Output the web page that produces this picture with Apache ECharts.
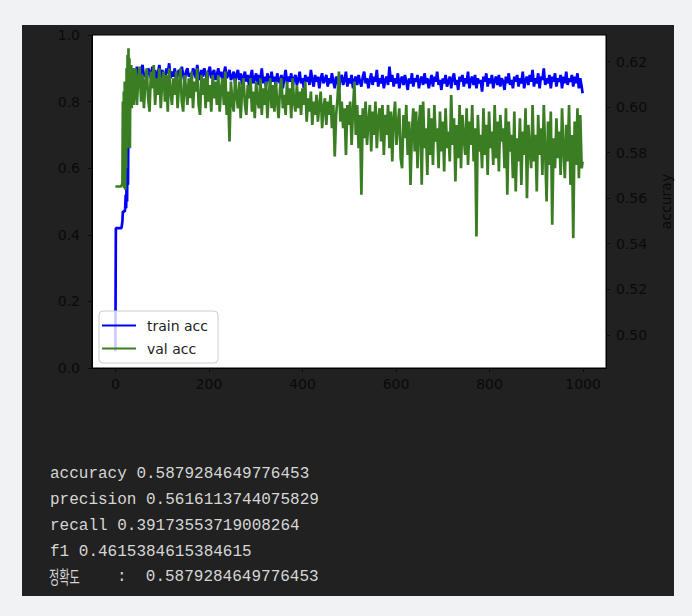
<!DOCTYPE html>
<html><head><meta charset="utf-8">
<script src="https://cdn.jsdelivr.net/npm/echarts@6/dist/echarts.min.js"></script>
<style>
html,body{margin:0;padding:0;background:#f1f2f4;}
#panel{position:absolute;left:22px;top:25px;width:652px;height:571px;background:#212121;}
#c{position:absolute;left:0;top:0;width:692px;height:616px;}
</style>
</head><body><div id="panel"></div><div id="c"></div>
<script>
// sampled epochs: every epoch for 0-39, every 3rd epoch for 40-997, then the last epoch 999
const earlyEpochs = [0,1,2,3,4,5,6,7,8,9,10,11,12,13,14,15,16,17,18,19,20,21,22,23,24,25,26,27,28,29,30,31,32,33,34,35,36,37,38,39];
const laterEpochStart = 40, laterEpochStep = 3, lastEpoch = 999;

const trainAcc = [
 0.05,0.42,0.42,0.42,0.42,0.42,0.42,0.42,0.42,0.42,0.42,0.42,0.42,0.42,0.42,0.44,0.47,0.47,0.47,0.47,0.47,0.48,0.52,0.48,0.56,0.50,0.67,0.55,0.78,0.84,0.88,0.86,0.89,0.87,0.90,0.88,0.89,0.87,0.90,0.88,
 0.89,0.87,0.905,0.88,0.865,0.895,0.91,0.875,0.885,0.865,0.9,0.89,0.87,0.905,0.88,0.895,0.865,0.885,0.91,0.87,
 0.895,0.88,0.865,0.9,0.885,0.915,0.87,0.89,0.875,0.9,0.865,0.885,0.895,0.87,0.905,0.88,0.86,0.89,0.9,0.875,
 0.885,0.865,0.9,0.89,0.87,0.91,0.88,0.865,0.895,0.875,0.9,0.885,0.86,0.89,0.905,0.87,0.885,0.895,0.865,0.88,
 0.9,0.875,0.89,0.86,0.885,0.905,0.87,0.88,0.895,0.865,0.875,0.89,0.855,0.88,0.895,0.865,0.885,0.85,0.875,0.89,
 0.86,0.88,0.845,0.875,0.895,0.855,0.87,0.885,0.85,0.88,0.865,0.9,0.855,0.875,0.845,0.885,0.87,0.855,0.89,0.86,
 0.875,0.845,0.885,0.865,0.855,0.88,0.84,0.87,0.895,0.855,0.875,0.86,0.885,0.845,0.87,0.88,0.85,0.865,0.89,0.855,
 0.87,0.84,0.88,0.86,0.875,0.85,0.895,0.865,0.845,0.88,0.86,0.875,0.84,0.87,0.885,0.855,0.865,0.88,0.845,0.87,
 0.855,0.885,0.86,0.84,0.875,0.865,0.835,0.87,0.88,0.85,0.865,0.89,0.845,0.87,0.855,0.88,0.84,0.865,0.875,0.85,
 0.88,0.86,0.845,0.875,0.89,0.855,0.87,0.84,0.865,0.885,0.85,0.875,0.86,0.895,0.845,0.87,0.855,0.88,0.84,0.865,
 0.875,0.85,0.905,0.86,0.88,0.845,0.87,0.855,0.885,0.84,0.865,0.875,0.85,0.88,0.86,0.835,0.87,0.855,0.885,0.845,
 0.87,0.86,0.88,0.84,0.865,0.875,0.85,0.885,0.855,0.87,0.84,0.86,0.88,0.845,0.875,0.86,0.89,0.85,0.865,0.835,
 0.87,0.855,0.88,0.845,0.86,0.875,0.84,0.87,0.885,0.85,0.865,0.835,0.875,0.86,0.88,0.845,0.87,0.855,0.89,0.84,
 0.865,0.875,0.85,0.88,0.84,0.87,0.855,0.865,0.83,0.875,0.86,0.885,0.845,0.87,0.855,0.88,0.84,0.865,0.875,0.85,
 0.88,0.845,0.87,0.86,0.835,0.875,0.855,0.885,0.85,0.865,0.84,0.875,0.86,0.88,0.845,0.87,0.855,0.89,0.84,0.865,
 0.875,0.85,0.88,0.86,0.895,0.845,0.87,0.855,0.885,0.84,0.875,0.865,0.9,0.85,0.87,0.855,0.88,0.84,0.875,0.86,
 0.885,0.845,0.87,0.86,0.88,0.84,0.875,0.855,0.89,0.85,0.87,0.86,0.88,0.845,0.875,0.855,0.885,0.84,0.87,0.845,
 0.825
];
const valAcc = [
 0.545,0.545,0.545,0.545,0.545,0.545,0.545,0.545,0.545,0.545,0.545,0.545,0.545,0.545,0.55,0.555,0.80,0.56,0.83,0.54,0.86,0.535,0.82,0.60,0.90,0.66,0.94,0.70,0.96,0.72,0.93,0.66,0.90,0.80,0.91,0.78,0.89,0.82,0.90,0.79,
 0.82,0.9,0.79,0.87,0.905,0.8,0.88,0.78,0.86,0.9,0.81,0.77,0.89,0.84,0.91,0.79,0.87,0.82,0.9,0.78,
 0.86,0.89,0.8,0.88,0.77,0.9,0.83,0.79,0.87,0.82,0.89,0.78,0.85,0.9,0.8,0.77,0.88,0.84,0.79,0.87,
 0.81,0.89,0.78,0.86,0.83,0.9,0.79,0.76,0.88,0.82,0.87,0.78,0.89,0.8,0.85,0.77,0.88,0.81,0.86,0.79,
 0.88,0.77,0.84,0.87,0.79,0.89,0.76,0.83,0.68,0.86,0.8,0.77,0.87,0.82,0.78,0.86,0.75,0.84,0.87,0.79,
 0.76,0.85,0.81,0.87,0.77,0.83,0.75,0.86,0.8,0.78,0.87,0.76,0.84,0.79,0.86,0.75,0.82,0.87,0.78,0.85,
 0.77,0.86,0.8,0.75,0.84,0.87,0.78,0.82,0.76,0.86,0.79,0.84,0.75,0.87,0.8,0.77,0.85,0.78,0.83,0.76,
 0.84,0.79,0.86,0.74,0.81,0.77,0.83,0.73,0.8,0.76,0.82,0.74,0.79,0.83,0.72,0.78,0.81,0.73,0.8,0.76,
 0.82,0.72,0.79,0.635,0.76,0.81,0.89,0.74,0.8,0.72,0.78,0.64,0.79,0.73,0.8,0.67,0.77,0.86,0.7,0.79,
 0.66,0.76,0.52,0.78,0.69,0.8,0.67,0.74,0.79,0.65,0.77,0.7,0.8,0.66,0.75,0.78,0.68,0.79,0.64,0.76,
 0.7,0.79,0.66,0.77,0.62,0.75,0.8,0.67,0.73,0.78,0.63,0.6,0.76,0.69,0.79,0.64,0.74,0.55,0.71,0.78,
 0.65,0.77,0.6,0.73,0.79,0.55,0.8,0.66,0.72,0.58,0.78,0.64,0.75,0.61,0.79,0.68,0.72,0.6,0.77,0.65,
 0.74,0.59,0.78,0.66,0.71,0.62,0.82,0.67,0.75,0.56,0.73,0.63,0.79,0.6,0.76,0.69,0.64,0.78,0.61,0.74,
 0.67,0.79,0.62,0.72,0.395,0.76,0.65,0.7,0.6,0.78,0.64,0.73,0.58,0.77,0.66,0.71,0.61,0.79,0.63,0.74,
 0.59,0.76,0.68,0.72,0.6,0.78,0.52,0.74,0.65,0.7,0.57,0.77,0.53,0.69,0.62,0.75,0.55,0.71,0.64,0.78,
 0.51,0.73,0.66,0.6,0.79,0.62,0.7,0.53,0.76,0.64,0.72,0.58,0.79,0.65,0.5,0.74,0.61,0.77,0.43,0.69,
 0.6,0.75,0.63,0.71,0.58,0.78,0.66,0.57,0.73,0.62,0.79,0.55,0.7,0.39,0.74,0.61,0.78,0.57,0.76,0.6,
 0.62
];
const seriesNames = ['train acc', 'val acc'];
const xTicks = [0, 200, 400, 600, 800, 1000];
const rightTicks = [0.50, 0.52, 0.54, 0.56, 0.58, 0.60, 0.62];
const metricLines = [
 'accuracy 0.5879284649776453',
 'precision 0.5616113744075829',
 'recall 0.39173553719008264',
 'f1 0.4615384615384615'
];
const koreanLabel = '정확도';
const koreanValue = ':  0.5879284649776453';

// x positions of the samples (epoch index)
const nLater = trainAcc.length - earlyEpochs.length - 1;
const epochs = earlyEpochs.slice();
for (let i = 0; i < nLater; i++) epochs.push(laterEpochStart + laterEpochStep * i);
epochs.push(lastEpoch);

const chart = echarts.init(document.getElementById('c'), null, {renderer: 'svg'});
const axisText = {color: '#0a0a0a', fontSize: 14, fontFamily: 'DejaVu Sans'};
const textFont = '16px "Liberation Mono"';
const textColor = '#d6d6d6';
const lineYs = [473, 499, 525, 551];
const graphics = metricLines.map((t, i) => ({
  type: 'text', left: 50, top: lineYs[i] - 7,
  style: {text: t, fill: textColor, font: textFont}
}));
graphics.push({type: 'text', x: 49, y: 576 - 9, scaleX: 0.62,
  style: {text: koreanLabel, fill: textColor, font: '18px "Noto Sans CJK KR"', verticalAlign: 'top'}});
graphics.push({type: 'text', left: 117, top: 576 - 7, style: {text: koreanValue, fill: textColor, font: textFont}});

chart.setOption({
  animation: false,
  backgroundColor: 'transparent',
  grid: {left: 92, right: 86, top: 35, bottom: 248, show: true, backgroundColor: '#ffffff', borderColor: '#000', borderWidth: 1},
  legend: {
    data: seriesNames, orient: 'vertical', left: 99, top: 311,
    icon: 'rect', itemWidth: 34, itemHeight: 2,
    itemGap: 6,
    padding: [6, 10, 6, 3],
    backgroundColor: 'rgba(255,255,255,0.8)', borderColor: '#cccccc', borderWidth: 1, borderRadius: 4,
    textStyle: {color: '#222', fontSize: 14, fontFamily: 'DejaVu Sans', lineHeight: 17, padding: [0, 0, 0, 6]}
  },
  xAxis: {
    type: 'value', min: -50, max: 1049,
    axisLine: {show: true, onZero: false, lineStyle: {color: '#000'}},
    splitLine: {show: false},
    axisTick: {show: true, length: 4, lineStyle: {color: '#0a0a0a'}, customValues: xTicks},
    axisLabel: Object.assign({margin: 9, customValues: xTicks, formatter: v => String(v)}, axisText)
  },
  yAxis: [
    {
      type: 'value', min: 0, max: 1, interval: 0.2, position: 'left',
      axisLine: {show: true, onZero: false, lineStyle: {color: '#000'}},
      splitLine: {show: false},
      axisTick: {show: true, length: 4, lineStyle: {color: '#0a0a0a'}},
      axisLabel: Object.assign({margin: 12, formatter: v => v.toFixed(1)}, axisText)
    },
    {
      type: 'value', min: 0.4854, max: 0.6317, position: 'right',
      name: 'accuray', nameLocation: 'middle', nameRotate: 90, nameGap: 53,
      nameTextStyle: {color: '#0a0a0a', fontSize: 14, fontFamily: 'DejaVu Sans'},
      axisLine: {show: true, onZero: false, lineStyle: {color: '#000'}},
      splitLine: {show: false},
      axisTick: {show: true, length: 4, lineStyle: {color: '#0a0a0a'}, customValues: rightTicks},
      axisLabel: Object.assign({margin: 10, customValues: rightTicks, formatter: v => v.toFixed(2)}, axisText)
    }
  ],
  series: [
    {name: seriesNames[0], type: 'line', yAxisIndex: 0, symbol: 'none', showSymbol: false,
     data: epochs.map((e, i) => [e, trainAcc[i]]),
     lineStyle: {color: '#0000ff', width: 2.7}, itemStyle: {color: '#0000ff'}},
    {name: seriesNames[1], type: 'line', yAxisIndex: 0, symbol: 'none', showSymbol: false,
     data: epochs.map((e, i) => [e, valAcc[i]]),
     lineStyle: {color: '#3a7d22', width: 2.7}, itemStyle: {color: '#3a7d22'}}
  ],
  graphic: graphics
});
</script></body></html>
